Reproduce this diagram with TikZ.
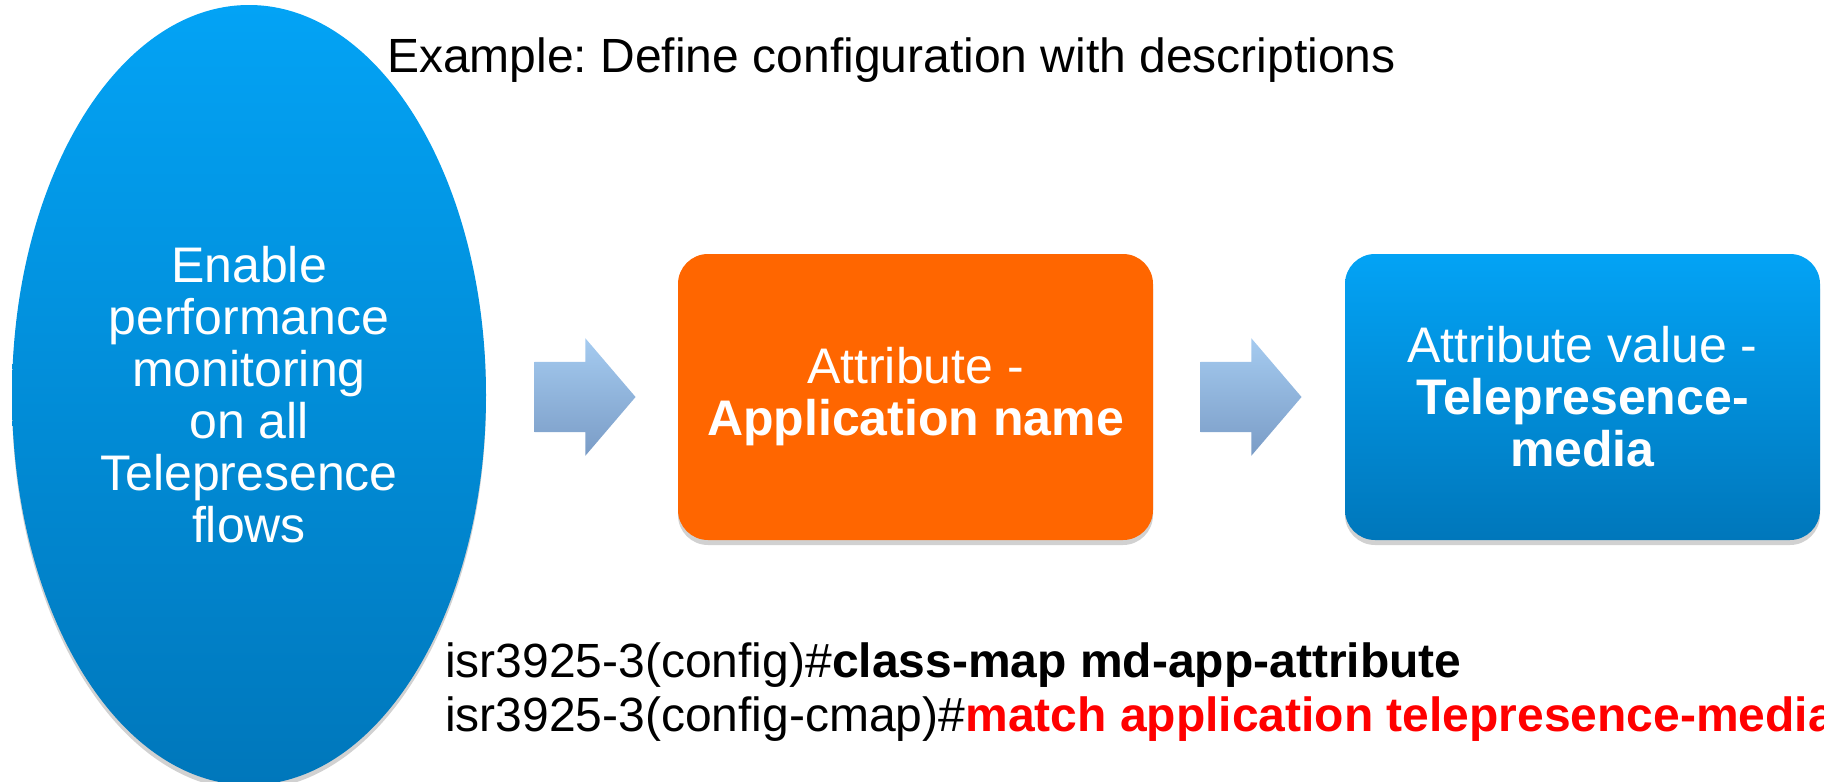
\documentclass[tikz,border=0pt]{standalone}
\usepackage{fontspec}
\setmainfont{Liberation Sans}
\frenchspacing
\usetikzlibrary{shapes.geometric,shapes.arrows,shadows}
\definecolor{ciscoblue}{HTML}{03A3F5}
\definecolor{ciscodark}{HTML}{0077BB}
\definecolor{attrorange}{HTML}{FF6600}
\definecolor{arrowtop}{HTML}{A5CBF0}
\definecolor{arrowbot}{HTML}{7A9CC6}
\tikzset{
  bigtext/.style={font=\fontsize{50}{52}\selectfont},
  cmdtext/.style={font=\fontsize{48}{54}\selectfont, anchor=base west, inner sep=0},
  softshadow/.style={drop shadow={shadow xshift=0pt, shadow yshift=-5pt, opacity=0.3, fill=black!60}},
  goalshape/.style={ellipse, draw=none, top color=ciscoblue, bottom color=ciscodark,
    minimum width=474, minimum height=780, inner sep=0, text=white, align=center, bigtext, softshadow},
  attrbox/.style={rectangle, rounded corners=30, minimum width=475, minimum height=286,
    inner sep=0, text=white, align=center, bigtext, softshadow},
  flowarrow/.style={single arrow, draw=none, top color=arrowtop, bottom color=arrowbot,
    minimum height=101, single arrow head extend=23.5,
    single arrow tip angle=99, inner xsep=0, inner ysep=35}
}
\begin{document}
\begin{tikzpicture}[x=1pt,y=-1pt]
      \useasboundingbox (0,0) rectangle (1824,782);
      \node[goalshape] (goal) at (249,395)
        {Enable\\performance\\monitoring\\on all\\Telepresence\\flows};
      \node[font=\fontsize{48}{54}\selectfont, anchor=base west, inner sep=0] (title) at (387,72)
        {Example: Define configuration with descriptions};
      \node[attrbox, fill=attrorange] (attr) at (915.5,397)
        {Attribute -\\\textbf{Application name}};
      \node[attrbox, top color=ciscoblue, bottom color=ciscodark] (value) at (1582.5,397)
        {Attribute value -\\\textbf{Telepresence-}\\\textbf{media}};
      \node[flowarrow] (arr1) at (570,397) {};
      \node[flowarrow] (arr2) at (1236,397) {};
      \node[cmdtext] (cmd1) at (445,677)
        {isr3925-3(config)\#\textbf{class-map md-app-attribute}};
      \node[cmdtext] (cmd2) at (445,731)
        {isr3925-3(config-cmap)\#\textcolor{red}{\textbf{match application telepresence-media}}};
    \end{tikzpicture}
\end{document}
